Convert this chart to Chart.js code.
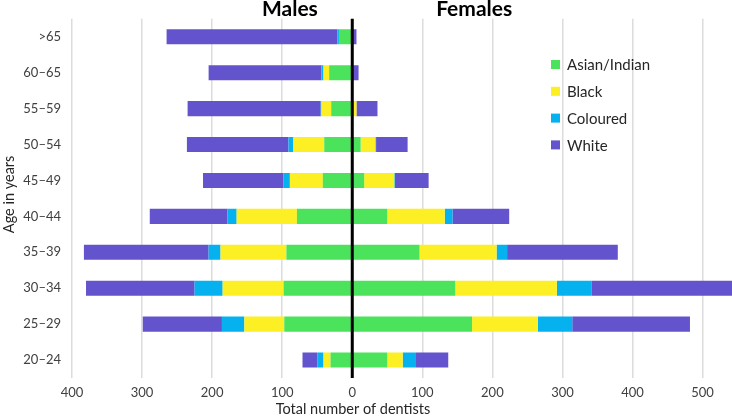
<!DOCTYPE html>
<html>
<head>
<meta charset="utf-8">
<script src="https://cdn.jsdelivr.net/npm/chart.js@4"></script>
<style>
  html, body { margin: 0; padding: 0; background: #fff; }
  #wrap { width: 732px; height: 418px; position: relative; }
</style>
</head>
<body>
<div id="wrap"><canvas id="pyramid"></canvas></div>
<script>
// age groups, top to bottom
const ageGroups = ['>65', '60–65', '55–59', '50–54', '45–49', '40–44', '35–39', '30–34', '25–29', '20–24'];
const groupNames = ['Asian/Indian', 'Black', 'Coloured', 'White'];
const groupColors = ['#4be35b', '#fcef24', '#05b2ef', '#6353cc'];

// males (plotted to the left)
const maleAsian    = [19, 33, 30, 40, 42, 79, 94, 98, 97, 31];
const maleBlack    = [0, 8, 14, 44, 47, 86, 94, 87, 57, 10];
const maleColoured = [2, 3, 1, 7, 9, 13, 17, 40, 32, 9];
const maleWhite    = [244, 161, 190, 145, 115, 111, 178, 155, 113, 21];

// females (plotted to the right)
const femaleAsian    = [1, 1, 2, 12, 17, 50, 96, 147, 171, 50];
const femaleBlack    = [0, 0, 4, 21, 43, 82, 110, 145, 94, 22];
const femaleColoured = [0, 0, 0, 1, 1, 11, 15, 50, 49, 19];
const femaleWhite    = [5, 8, 30, 45, 48, 81, 158, 215, 168, 46];

const xTicks = [-400, -300, -200, -100, 0, 100, 200, 300, 400, 500];

const FONT = "Lato, 'Open Sans', sans-serif";
const neg = arr => arr.map(v => -v);

const maleSets = [maleAsian, maleBlack, maleColoured, maleWhite];
const femaleSets = [femaleAsian, femaleBlack, femaleColoured, femaleWhite];

const datasets = [];
maleSets.forEach((d, i) => datasets.push({
  label: groupNames[i] + ' (male)', data: neg(d), backgroundColor: groupColors[i], stack: 'all'
}));
femaleSets.forEach((d, i) => datasets.push({
  label: groupNames[i] + ' (female)', data: d, backgroundColor: groupColors[i], stack: 'all'
}));

// zero line, sex headings, legend and axis titles
const extras = {
  id: 'extras',
  afterDatasetsDraw(chart) {
    const { ctx, chartArea, scales } = chart;
    const x0 = scales.x.getPixelForValue(0);
    ctx.save();
    ctx.strokeStyle = '#000';
    ctx.lineWidth = 3;
    ctx.beginPath();
    ctx.moveTo(x0, chartArea.top);
    ctx.lineTo(x0, chartArea.bottom);
    ctx.stroke();
    ctx.restore();
  },
  afterDraw(chart) {
    const { ctx, chartArea, scales } = chart;
    ctx.save();
    ctx.fillStyle = '#000';
    ctx.font = 'bold 21px ' + FONT;
    ctx.textAlign = 'center';
    ctx.textBaseline = 'alphabetic';
    ctx.fillText('Males', scales.x.getPixelForValue(-89), 16);
    ctx.fillText('Females', scales.x.getPixelForValue(174), 16);

    // legend
    ctx.font = '15px ' + FONT;
    ctx.textAlign = 'left';
    ctx.textBaseline = 'middle';
    groupNames.forEach((name, i) => {
      const y = 64.5 + i * 26.8;
      ctx.fillStyle = groupColors[i];
      ctx.fillRect(551, y - 4.5, 9, 9);
      ctx.fillStyle = '#262626';
      ctx.fillText(name, 567, y + 1);
    });

    // axis titles
    ctx.fillStyle = '#262626';
    ctx.font = '14.5px ' + FONT;
    ctx.textAlign = 'center';
    ctx.fillText('Total number of dentists', 353, 409);
    ctx.translate(9, (chartArea.top + chartArea.bottom) / 2 - 4);
    ctx.rotate(-Math.PI / 2);
    ctx.fillText('Age in years', 0, 0);
    ctx.restore();
  }
};

new Chart(document.getElementById('pyramid'), {
  type: 'bar',
  data: { labels: ageGroups, datasets: datasets },
  plugins: [extras],
  options: {
    indexAxis: 'y',
    responsive: true,
    maintainAspectRatio: false,
    animation: false,
    datasets: { bar: { categoryPercentage: 1, barPercentage: 0.42, borderWidth: 0 } },
    layout: { padding: { top: 6, right: 0, left: 0, bottom: 0 } },
    plugins: { legend: { display: false }, tooltip: { enabled: false } },
    scales: {
      x: {
        stacked: true,
        min: -400,
        max: 542,
        afterBuildTicks: s => { s.ticks = xTicks.map(v => ({ value: v })); },
        afterFit: s => { s.height = 40; },
        ticks: {
          includeBounds: false,
          padding: 7,
          color: '#404040',
          font: { family: FONT, size: 13 },
          callback: v => Math.abs(v)
        },
        grid: { color: '#dcdcdc', lineWidth: 1.5, drawTicks: false },
        border: { display: false }
      },
      y: {
        stacked: true,
        afterFit: s => { s.width = 72; },
        ticks: {
          padding: 11,
          color: '#404040',
          font: { family: FONT, size: 13 }
        },
        grid: { display: false, drawTicks: false },
        border: { display: false }
      }
    }
  }
});
</script>
</body>
</html>
